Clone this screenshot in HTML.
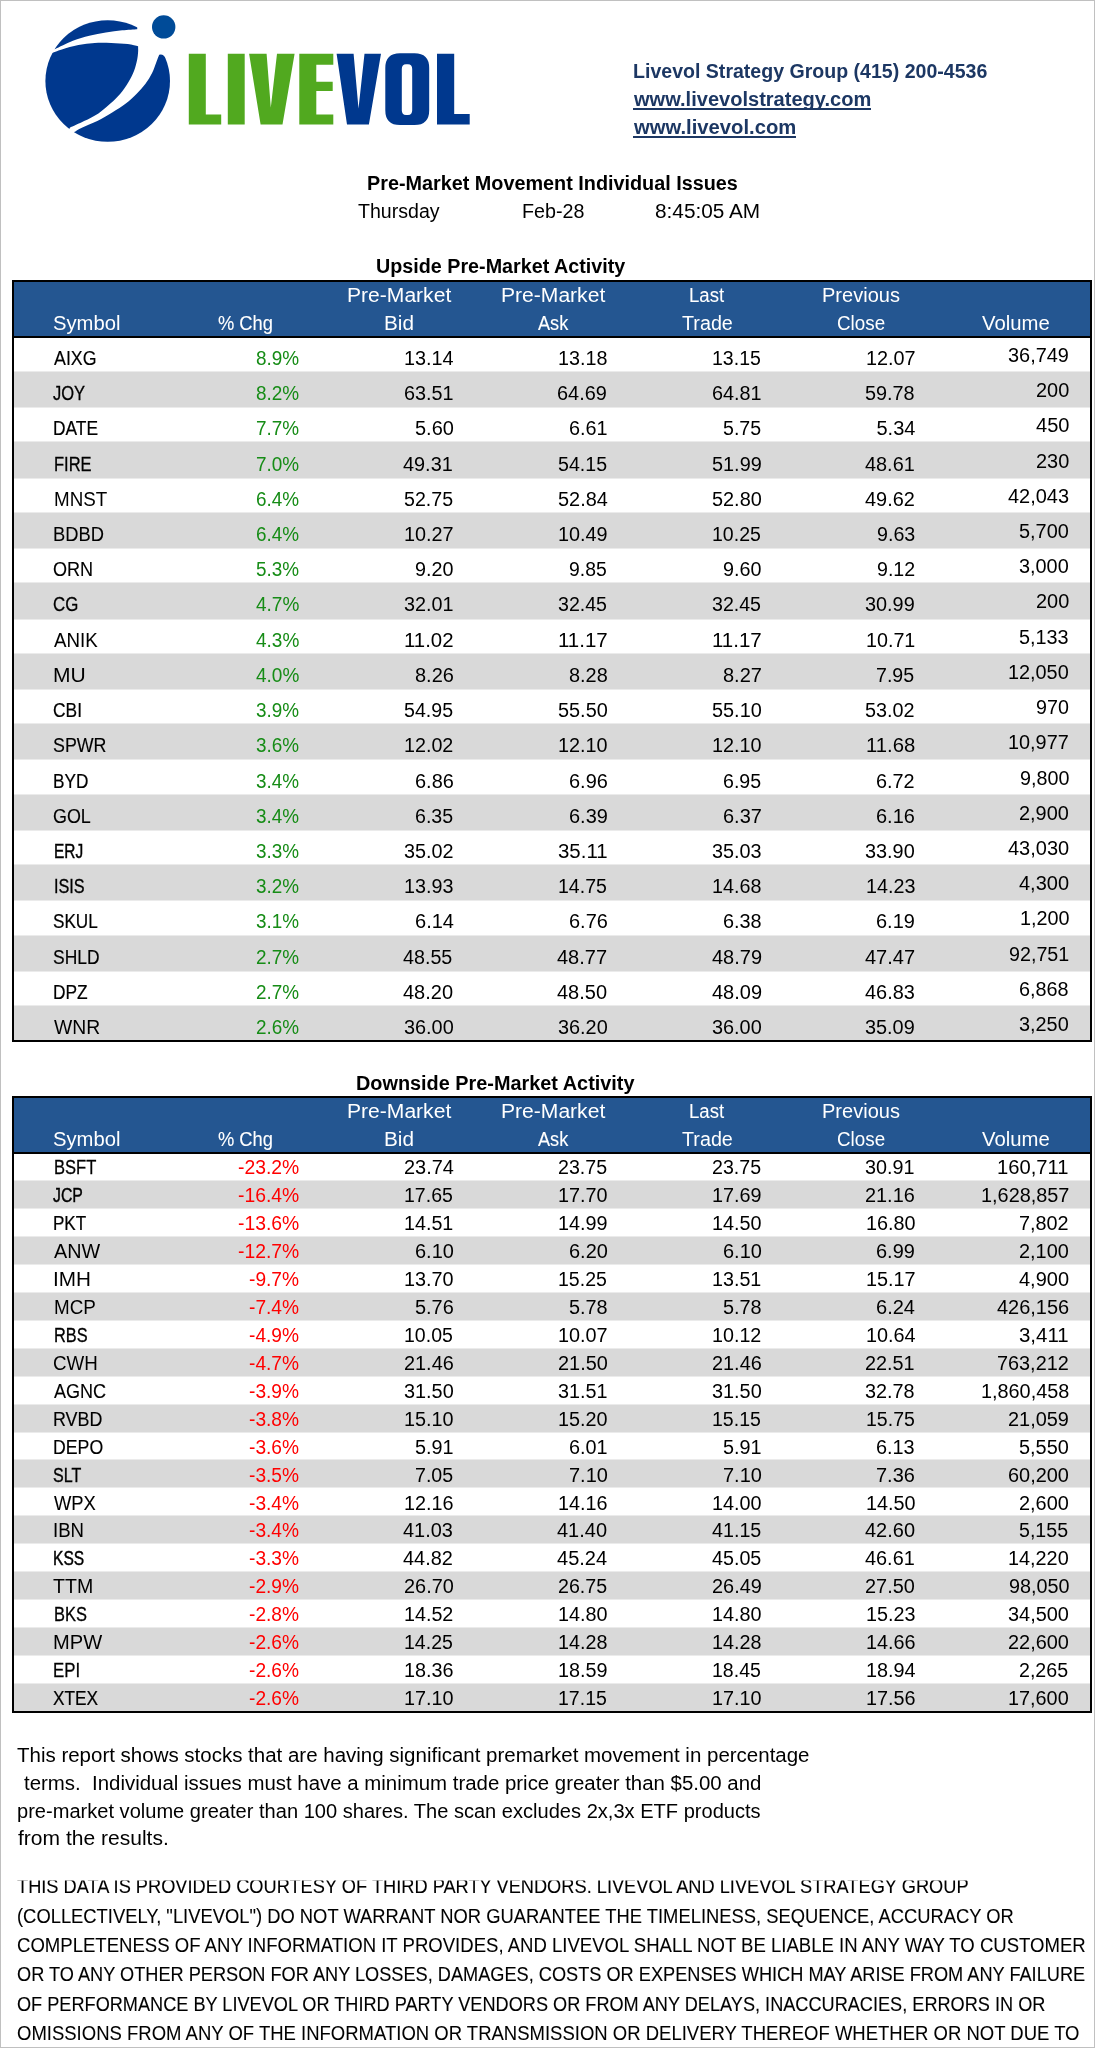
<!DOCTYPE html>
<html><head><meta charset="utf-8"><title>Pre-Market Movement</title>
<style>
html,body{margin:0;padding:0;background:#fff;}
body{width:1095px;height:2048px;position:relative;overflow:hidden;font-family:"Liberation Sans",sans-serif;color:#000;}
.t{position:absolute;white-space:pre;transform-origin:0 0;}
.r{position:absolute;}
.clip{position:absolute;overflow:hidden;}
.logo{position:absolute;left:0;top:0;}
</style></head><body><div id="w" style="position:absolute;left:0;top:0;width:1095px;height:2048px;will-change:transform">
<svg class="logo" width="500" height="170" viewBox="0 0 500 170">
<defs><clipPath id="cc"><ellipse cx="107.7" cy="81" rx="62.3" ry="60.8"/></clipPath></defs>
<g clip-path="url(#cc)" fill="#00388e">
<path d="M40 52 L55.3 48.9 C58.23 47.53 67.23 42.88 72.90 40.70 C78.57 38.52 83.82 37.17 89.30 35.80 C94.78 34.43 100.32 33.42 105.80 32.50 C111.28 31.58 116.97 30.85 122.20 30.30 C127.43 29.75 134.70 29.38 137.20 29.20 L138 20 L139 5 L40 5 Z"/>
<path d="M30 56 L51.0 53.3 C52.82 52.67 57.33 50.87 61.90 49.50 C66.47 48.13 72.92 46.20 78.40 45.10 C83.88 44.00 89.33 43.27 94.80 42.90 C100.27 42.53 105.72 42.72 111.20 42.90 C116.68 43.08 123.22 43.45 127.70 44.00 C132.18 44.55 136.37 45.83 138.10 46.20 C138.10 47.17 138.27 49.70 138.10 52.00 C137.93 54.30 137.78 56.83 137.10 60.00 C136.42 63.17 135.43 67.33 134.00 71.00 C132.57 74.67 130.78 78.22 128.50 82.00 C126.22 85.78 123.32 90.10 120.30 93.70 C117.28 97.30 114.05 100.32 110.40 103.60 C106.75 106.88 102.78 110.48 98.40 113.40 C94.02 116.32 88.85 118.72 84.10 121.10 C79.35 123.48 72.27 126.60 69.90 127.70 L60 150 L30 150 Z"/>
<path d="M159.2 54.8 C158.73 55.98 157.58 58.88 156.40 61.90 C155.22 64.92 153.92 69.25 152.10 72.90 C150.28 76.55 148.07 80.33 145.50 83.80 C142.93 87.27 139.98 90.40 136.70 93.70 C133.42 97.00 129.82 100.50 125.80 103.60 C121.78 106.70 117.35 109.38 112.60 112.30 C107.85 115.22 102.42 118.53 97.30 121.10 C92.18 123.67 85.75 125.87 81.90 127.70 C78.05 129.53 75.48 131.37 74.20 132.10 L65 150 L185 150 L185 62 L166.5 59.2 Q163.5 53.6 159.2 54.8 Z"/>
</g>
<circle cx="163.7" cy="26.9" r="11.7" fill="#004b98"/>
<g fill="#51a91f">
<path d="M188.8 53.8 H205.8 V114.6 H221.2 V124.5 H188.8 Z"/>
<path d="M227.8 53.8 H244.7 V124.5 H227.8 Z"/>
<path d="M249.1 53.8 H266.6 L270.8 107.5 L277 53.8 H294.6 L282.5 124.5 H260.6 Z"/>
<path d="M299.3 53.8 H333.3 V64.7 H316.3 V81.7 H332.7 V91 H316.3 V114.6 H333.3 V124.5 H299.3 Z"/>
</g>
<g fill="#00388e">
<path d="M336.6 53.8 H353.6 L358.5 108.6 L364.5 53.8 H381 L368.9 124.5 H347 Z"/>
<path fill-rule="evenodd" d="M400 53.2 H414.5 Q429.2 53.2 429.2 68 V110.2 Q429.2 125 414.5 125 H400 Q385.3 125 385.3 110.2 V68 Q385.3 53.2 400 53.2 Z M406 64.2 Q401.8 64.2 401.8 69 V110.3 Q401.8 115.1 406 115.1 H408 Q412.2 115.1 412.2 110.3 V69 Q412.2 64.2 408 64.2 Z"/>
<path d="M437 53.8 H454.2 V114 H469.7 V124.5 H437 Z"/>
</g>
</svg>
<div class="t" style="left:632.94px;top:61.30px;font-size:20.00px;line-height:20.00px;transform:scaleX(0.9778);font-weight:bold;color:#1c3763;">Livevol Strategy Group (415) 200-4536</div>
<div class="t" style="left:634.09px;top:88.90px;font-size:20.00px;line-height:20.00px;transform:scaleX(1.0021);font-weight:bold;color:#1c3763;">www.livevolstrategy.com</div>
<div class="t" style="left:634.09px;top:116.90px;font-size:20.00px;line-height:20.00px;transform:scaleX(1.0114);font-weight:bold;color:#1c3763;">www.livevol.com</div>
<div class="r" style="left:633.20px;top:108.20px;width:237.60px;height:1.80px;background:#1c3763;"></div>
<div class="r" style="left:633.20px;top:136.20px;width:162.60px;height:1.80px;background:#1c3763;"></div>
<div class="t" style="left:367.43px;top:172.80px;font-size:20.00px;line-height:20.00px;transform:scaleX(0.9901);font-weight:bold;">Pre-Market Movement Individual Issues</div>
<div class="t" style="left:357.81px;top:201.22px;font-size:20.00px;line-height:20.00px;transform:scaleX(0.9784);">Thursday</div>
<div class="t" style="left:521.57px;top:201.22px;font-size:20.00px;line-height:20.00px;transform:scaleX(0.9856);">Feb-28</div>
<div class="t" style="left:654.52px;top:201.22px;font-size:20.00px;line-height:20.00px;transform:scaleX(1.0389);">8:45:05 AM</div>
<div class="t" style="left:376.05px;top:256.30px;font-size:20.00px;line-height:20.00px;transform:scaleX(0.9866);font-weight:bold;">Upside Pre-Market Activity</div>
<div class="t" style="left:355.62px;top:1072.80px;font-size:20.00px;line-height:20.00px;transform:scaleX(0.9931);font-weight:bold;">Downside Pre-Market Activity</div>
<div class="r" style="left:12.00px;top:372.00px;width:1080.00px;height:35.00px;background:#d9d9d9;"></div>
<div class="r" style="left:12.00px;top:371.00px;width:1080.00px;height:1.00px;background:#ebebeb;"></div>
<div class="r" style="left:12.00px;top:407.00px;width:1080.00px;height:1.00px;background:#ebebeb;"></div>
<div class="r" style="left:12.00px;top:442.00px;width:1080.00px;height:36.00px;background:#d9d9d9;"></div>
<div class="r" style="left:12.00px;top:441.00px;width:1080.00px;height:1.00px;background:#ebebeb;"></div>
<div class="r" style="left:12.00px;top:478.00px;width:1080.00px;height:1.00px;background:#ebebeb;"></div>
<div class="r" style="left:12.00px;top:513.00px;width:1080.00px;height:35.00px;background:#d9d9d9;"></div>
<div class="r" style="left:12.00px;top:512.00px;width:1080.00px;height:1.00px;background:#ebebeb;"></div>
<div class="r" style="left:12.00px;top:548.00px;width:1080.00px;height:1.00px;background:#ebebeb;"></div>
<div class="r" style="left:12.00px;top:583.00px;width:1080.00px;height:36.00px;background:#d9d9d9;"></div>
<div class="r" style="left:12.00px;top:582.00px;width:1080.00px;height:1.00px;background:#ebebeb;"></div>
<div class="r" style="left:12.00px;top:619.00px;width:1080.00px;height:1.00px;background:#ebebeb;"></div>
<div class="r" style="left:12.00px;top:654.00px;width:1080.00px;height:35.00px;background:#d9d9d9;"></div>
<div class="r" style="left:12.00px;top:653.00px;width:1080.00px;height:1.00px;background:#ebebeb;"></div>
<div class="r" style="left:12.00px;top:689.00px;width:1080.00px;height:1.00px;background:#ebebeb;"></div>
<div class="r" style="left:12.00px;top:724.00px;width:1080.00px;height:35.00px;background:#d9d9d9;"></div>
<div class="r" style="left:12.00px;top:723.00px;width:1080.00px;height:1.00px;background:#ebebeb;"></div>
<div class="r" style="left:12.00px;top:759.00px;width:1080.00px;height:1.00px;background:#ebebeb;"></div>
<div class="r" style="left:12.00px;top:795.00px;width:1080.00px;height:35.00px;background:#d9d9d9;"></div>
<div class="r" style="left:12.00px;top:794.00px;width:1080.00px;height:1.00px;background:#ebebeb;"></div>
<div class="r" style="left:12.00px;top:830.00px;width:1080.00px;height:1.00px;background:#ebebeb;"></div>
<div class="r" style="left:12.00px;top:865.00px;width:1080.00px;height:35.00px;background:#d9d9d9;"></div>
<div class="r" style="left:12.00px;top:864.00px;width:1080.00px;height:1.00px;background:#ebebeb;"></div>
<div class="r" style="left:12.00px;top:900.00px;width:1080.00px;height:1.00px;background:#ebebeb;"></div>
<div class="r" style="left:12.00px;top:936.00px;width:1080.00px;height:35.00px;background:#d9d9d9;"></div>
<div class="r" style="left:12.00px;top:935.00px;width:1080.00px;height:1.00px;background:#ebebeb;"></div>
<div class="r" style="left:12.00px;top:971.00px;width:1080.00px;height:1.00px;background:#ebebeb;"></div>
<div class="r" style="left:12.00px;top:1006.00px;width:1080.00px;height:35.00px;background:#d9d9d9;"></div>
<div class="r" style="left:12.00px;top:1005.00px;width:1080.00px;height:1.00px;background:#ebebeb;"></div>
<div class="r" style="left:12.00px;top:280.00px;width:1080.00px;height:56.00px;background:#245691;"></div>
<div class="r" style="left:12.00px;top:336.00px;width:1080.00px;height:2.00px;background:#000;"></div>
<div class="r" style="left:12.00px;top:280.00px;width:1080.00px;height:762.00px;border:2px solid #000;box-sizing:border-box"></div>
<div class="t" style="left:52.75px;top:312.92px;font-size:20.00px;line-height:20.00px;transform:scaleX(1.0122);color:#fff;">Symbol</div>
<div class="t" style="left:217.70px;top:312.92px;font-size:20.00px;line-height:20.00px;transform:scaleX(0.9158);-webkit-text-stroke:0.09px currentColor;color:#fff;">% Chg</div>
<div class="t" style="left:346.75px;top:284.92px;font-size:20.00px;line-height:20.00px;transform:scaleX(1.0539);color:#fff;">Pre-Market</div>
<div class="t" style="left:384.43px;top:312.92px;font-size:20.00px;line-height:20.00px;transform:scaleX(1.0357);color:#fff;">Bid</div>
<div class="t" style="left:500.65px;top:284.92px;font-size:20.00px;line-height:20.00px;transform:scaleX(1.0539);color:#fff;">Pre-Market</div>
<div class="t" style="left:538.48px;top:312.92px;font-size:20.00px;line-height:20.00px;transform:scaleX(0.9071);-webkit-text-stroke:0.11px currentColor;color:#fff;">Ask</div>
<div class="t" style="left:689.06px;top:284.92px;font-size:20.00px;line-height:20.00px;transform:scaleX(0.9284);-webkit-text-stroke:0.07px currentColor;color:#fff;">Last</div>
<div class="t" style="left:681.86px;top:312.92px;font-size:20.00px;line-height:20.00px;transform:scaleX(0.9870);color:#fff;">Trade</div>
<div class="t" style="left:821.74px;top:284.92px;font-size:20.00px;line-height:20.00px;transform:scaleX(1.0014);color:#fff;">Previous</div>
<div class="t" style="left:837.09px;top:312.92px;font-size:20.00px;line-height:20.00px;transform:scaleX(0.9411);color:#fff;">Close</div>
<div class="t" style="left:981.78px;top:312.92px;font-size:20.00px;line-height:20.00px;transform:scaleX(1.0153);color:#fff;">Volume</div>
<div class="t" style="left:53.53px;top:347.92px;font-size:20.00px;line-height:20.00px;transform:scaleX(0.8908);-webkit-text-stroke:0.15px currentColor;">AIXG</div>
<div class="t" style="left:255.82px;top:347.92px;font-size:20.00px;line-height:20.00px;transform:scaleX(0.9468);color:#168c16;">8.9%</div>
<div class="t" style="left:403.79px;top:347.92px;font-size:20.00px;line-height:20.00px;transform:scaleX(0.9914);">13.14</div>
<div class="t" style="left:557.72px;top:347.92px;font-size:20.00px;line-height:20.00px;transform:scaleX(0.9869);">13.18</div>
<div class="t" style="left:712.04px;top:347.92px;font-size:20.00px;line-height:20.00px;transform:scaleX(0.9757);">13.15</div>
<div class="t" style="left:865.59px;top:347.92px;font-size:20.00px;line-height:20.00px;transform:scaleX(0.9909);">12.07</div>
<div class="t" style="left:1008.32px;top:344.92px;font-size:20.00px;line-height:20.00px;transform:scaleX(0.9948);">36,749</div>
<div class="t" style="left:53.27px;top:383.14px;font-size:20.00px;line-height:20.00px;transform:scaleX(0.8262);-webkit-text-stroke:0.30px currentColor;">JOY</div>
<div class="t" style="left:255.82px;top:383.14px;font-size:20.00px;line-height:20.00px;transform:scaleX(0.9468);color:#168c16;">8.2%</div>
<div class="t" style="left:403.57px;top:383.14px;font-size:20.00px;line-height:20.00px;transform:scaleX(0.9899);">63.51</div>
<div class="t" style="left:557.49px;top:383.14px;font-size:20.00px;line-height:20.00px;transform:scaleX(0.9947);">64.69</div>
<div class="t" style="left:711.80px;top:383.14px;font-size:20.00px;line-height:20.00px;transform:scaleX(0.9899);">64.81</div>
<div class="t" style="left:865.40px;top:383.14px;font-size:20.00px;line-height:20.00px;transform:scaleX(0.9910);">59.78</div>
<div class="t" style="left:1035.91px;top:380.14px;font-size:20.00px;line-height:20.00px;transform:scaleX(0.9965);">200</div>
<div class="t" style="left:53.43px;top:418.36px;font-size:20.00px;line-height:20.00px;transform:scaleX(0.8687);-webkit-text-stroke:0.20px currentColor;">DATE</div>
<div class="t" style="left:255.89px;top:418.36px;font-size:20.00px;line-height:20.00px;transform:scaleX(0.9453);color:#168c16;">7.7%</div>
<div class="t" style="left:414.67px;top:418.36px;font-size:20.00px;line-height:20.00px;transform:scaleX(0.9979);">5.60</div>
<div class="t" style="left:568.59px;top:418.36px;font-size:20.00px;line-height:20.00px;transform:scaleX(0.9912);">6.61</div>
<div class="t" style="left:722.92px;top:418.36px;font-size:20.00px;line-height:20.00px;transform:scaleX(0.9788);">5.75</div>
<div class="t" style="left:876.48px;top:418.36px;font-size:20.00px;line-height:20.00px;">5.34</div>
<div class="t" style="left:1035.69px;top:415.36px;font-size:20.00px;line-height:20.00px;transform:scaleX(1.0033);">450</div>
<div class="t" style="left:53.51px;top:453.58px;font-size:20.00px;line-height:20.00px;transform:scaleX(0.8236);-webkit-text-stroke:0.31px currentColor;">FIRE</div>
<div class="t" style="left:255.89px;top:453.58px;font-size:20.00px;line-height:20.00px;transform:scaleX(0.9453);color:#168c16;">7.0%</div>
<div class="t" style="left:403.35px;top:453.58px;font-size:20.00px;line-height:20.00px;transform:scaleX(0.9943);">49.31</div>
<div class="t" style="left:557.53px;top:453.58px;font-size:20.00px;line-height:20.00px;transform:scaleX(0.9799);">54.15</div>
<div class="t" style="left:711.82px;top:453.58px;font-size:20.00px;line-height:20.00px;transform:scaleX(0.9942);">51.99</div>
<div class="t" style="left:865.15px;top:453.58px;font-size:20.00px;line-height:20.00px;transform:scaleX(0.9943);">48.61</div>
<div class="t" style="left:1035.91px;top:450.58px;font-size:20.00px;line-height:20.00px;transform:scaleX(0.9965);">230</div>
<div class="t" style="left:53.57px;top:488.80px;font-size:20.00px;line-height:20.00px;transform:scaleX(0.9391);">MNST</div>
<div class="t" style="left:255.89px;top:488.80px;font-size:20.00px;line-height:20.00px;transform:scaleX(0.9453);color:#168c16;">6.4%</div>
<div class="t" style="left:403.60px;top:488.80px;font-size:20.00px;line-height:20.00px;transform:scaleX(0.9799);">52.75</div>
<div class="t" style="left:557.52px;top:488.80px;font-size:20.00px;line-height:20.00px;transform:scaleX(0.9954);">52.84</div>
<div class="t" style="left:711.82px;top:488.80px;font-size:20.00px;line-height:20.00px;transform:scaleX(0.9942);">52.80</div>
<div class="t" style="left:865.15px;top:488.80px;font-size:20.00px;line-height:20.00px;transform:scaleX(0.9947);">49.62</div>
<div class="t" style="left:1008.05px;top:485.80px;font-size:20.00px;line-height:20.00px;transform:scaleX(0.9967);">42,043</div>
<div class="t" style="left:53.35px;top:524.03px;font-size:20.00px;line-height:20.00px;transform:scaleX(0.9173);-webkit-text-stroke:0.09px currentColor;">BDBD</div>
<div class="t" style="left:255.89px;top:524.03px;font-size:20.00px;line-height:20.00px;transform:scaleX(0.9453);color:#168c16;">6.4%</div>
<div class="t" style="left:403.79px;top:524.03px;font-size:20.00px;line-height:20.00px;transform:scaleX(0.9909);">10.27</div>
<div class="t" style="left:557.72px;top:524.03px;font-size:20.00px;line-height:20.00px;transform:scaleX(0.9902);">10.49</div>
<div class="t" style="left:712.04px;top:524.03px;font-size:20.00px;line-height:20.00px;transform:scaleX(0.9757);">10.25</div>
<div class="t" style="left:876.88px;top:524.03px;font-size:20.00px;line-height:20.00px;transform:scaleX(0.9826);">9.63</div>
<div class="t" style="left:1019.38px;top:521.03px;font-size:20.00px;line-height:20.00px;transform:scaleX(0.9942);">5,700</div>
<div class="t" style="left:53.32px;top:559.25px;font-size:20.00px;line-height:20.00px;transform:scaleX(0.9037);-webkit-text-stroke:0.12px currentColor;">ORN</div>
<div class="t" style="left:255.91px;top:559.25px;font-size:20.00px;line-height:20.00px;transform:scaleX(0.9448);color:#168c16;">5.3%</div>
<div class="t" style="left:415.07px;top:559.25px;font-size:20.00px;line-height:20.00px;transform:scaleX(0.9875);">9.20</div>
<div class="t" style="left:569.02px;top:559.25px;font-size:20.00px;line-height:20.00px;transform:scaleX(0.9684);">9.85</div>
<div class="t" style="left:723.30px;top:559.25px;font-size:20.00px;line-height:20.00px;transform:scaleX(0.9875);">9.60</div>
<div class="t" style="left:876.88px;top:559.25px;font-size:20.00px;line-height:20.00px;transform:scaleX(0.9801);">9.12</div>
<div class="t" style="left:1019.41px;top:556.25px;font-size:20.00px;line-height:20.00px;transform:scaleX(0.9936);">3,000</div>
<div class="t" style="left:53.36px;top:594.47px;font-size:20.00px;line-height:20.00px;transform:scaleX(0.8430);-webkit-text-stroke:0.26px currentColor;">CG</div>
<div class="t" style="left:255.65px;top:594.47px;font-size:20.00px;line-height:20.00px;transform:scaleX(0.9506);color:#168c16;">4.7%</div>
<div class="t" style="left:403.62px;top:594.47px;font-size:20.00px;line-height:20.00px;transform:scaleX(0.9888);">32.01</div>
<div class="t" style="left:557.56px;top:594.47px;font-size:20.00px;line-height:20.00px;transform:scaleX(0.9793);">32.45</div>
<div class="t" style="left:711.86px;top:594.47px;font-size:20.00px;line-height:20.00px;transform:scaleX(0.9793);">32.45</div>
<div class="t" style="left:865.43px;top:594.47px;font-size:20.00px;line-height:20.00px;transform:scaleX(0.9936);">30.99</div>
<div class="t" style="left:1035.91px;top:591.47px;font-size:20.00px;line-height:20.00px;transform:scaleX(0.9965);">200</div>
<div class="t" style="left:53.53px;top:629.69px;font-size:20.00px;line-height:20.00px;transform:scaleX(0.9360);-webkit-text-stroke:0.05px currentColor;">ANIK</div>
<div class="t" style="left:255.65px;top:629.69px;font-size:20.00px;line-height:20.00px;transform:scaleX(0.9506);color:#168c16;">4.3%</div>
<div class="t" style="left:403.74px;top:629.69px;font-size:20.00px;line-height:20.00px;transform:scaleX(1.0190);">11.02</div>
<div class="t" style="left:557.66px;top:629.69px;font-size:20.00px;line-height:20.00px;transform:scaleX(1.0245);">11.17</div>
<div class="t" style="left:711.96px;top:629.69px;font-size:20.00px;line-height:20.00px;transform:scaleX(1.0245);">11.17</div>
<div class="t" style="left:865.60px;top:629.69px;font-size:20.00px;line-height:20.00px;transform:scaleX(0.9853);">10.71</div>
<div class="t" style="left:1019.38px;top:626.69px;font-size:20.00px;line-height:20.00px;transform:scaleX(0.9910);">5,133</div>
<div class="t" style="left:53.38px;top:664.91px;font-size:20.00px;line-height:20.00px;transform:scaleX(1.0514);">MU</div>
<div class="t" style="left:255.65px;top:664.91px;font-size:20.00px;line-height:20.00px;transform:scaleX(0.9506);color:#168c16;">4.0%</div>
<div class="t" style="left:414.59px;top:664.91px;font-size:20.00px;line-height:20.00px;transform:scaleX(0.9986);">8.26</div>
<div class="t" style="left:568.52px;top:664.91px;font-size:20.00px;line-height:20.00px;transform:scaleX(0.9953);">8.28</div>
<div class="t" style="left:722.82px;top:664.91px;font-size:20.00px;line-height:20.00px;transform:scaleX(0.9996);">8.27</div>
<div class="t" style="left:876.47px;top:664.91px;font-size:20.00px;line-height:20.00px;transform:scaleX(0.9794);">7.95</div>
<div class="t" style="left:1008.49px;top:661.91px;font-size:20.00px;line-height:20.00px;transform:scaleX(0.9920);">12,050</div>
<div class="t" style="left:53.33px;top:700.14px;font-size:20.00px;line-height:20.00px;transform:scaleX(0.8692);-webkit-text-stroke:0.20px currentColor;">CBI</div>
<div class="t" style="left:255.94px;top:700.14px;font-size:20.00px;line-height:20.00px;transform:scaleX(0.9442);color:#168c16;">3.9%</div>
<div class="t" style="left:403.60px;top:700.14px;font-size:20.00px;line-height:20.00px;transform:scaleX(0.9799);">54.95</div>
<div class="t" style="left:557.52px;top:700.14px;font-size:20.00px;line-height:20.00px;transform:scaleX(0.9942);">55.50</div>
<div class="t" style="left:711.82px;top:700.14px;font-size:20.00px;line-height:20.00px;transform:scaleX(0.9942);">55.10</div>
<div class="t" style="left:865.40px;top:700.14px;font-size:20.00px;line-height:20.00px;transform:scaleX(0.9898);">53.02</div>
<div class="t" style="left:1036.32px;top:697.14px;font-size:20.00px;line-height:20.00px;transform:scaleX(0.9837);">970</div>
<div class="t" style="left:53.16px;top:735.36px;font-size:20.00px;line-height:20.00px;transform:scaleX(0.8903);-webkit-text-stroke:0.15px currentColor;">SPWR</div>
<div class="t" style="left:255.94px;top:735.36px;font-size:20.00px;line-height:20.00px;transform:scaleX(0.9442);color:#168c16;">3.6%</div>
<div class="t" style="left:403.79px;top:735.36px;font-size:20.00px;line-height:20.00px;transform:scaleX(0.9857);">12.02</div>
<div class="t" style="left:557.72px;top:735.36px;font-size:20.00px;line-height:20.00px;transform:scaleX(0.9902);">12.10</div>
<div class="t" style="left:712.02px;top:735.36px;font-size:20.00px;line-height:20.00px;transform:scaleX(0.9902);">12.10</div>
<div class="t" style="left:865.56px;top:735.36px;font-size:20.00px;line-height:20.00px;transform:scaleX(1.0138);">11.68</div>
<div class="t" style="left:1008.49px;top:732.36px;font-size:20.00px;line-height:20.00px;transform:scaleX(0.9926);">10,977</div>
<div class="t" style="left:53.45px;top:770.58px;font-size:20.00px;line-height:20.00px;transform:scaleX(0.8600);-webkit-text-stroke:0.22px currentColor;">BYD</div>
<div class="t" style="left:255.94px;top:770.58px;font-size:20.00px;line-height:20.00px;transform:scaleX(0.9442);color:#168c16;">3.4%</div>
<div class="t" style="left:414.65px;top:770.58px;font-size:20.00px;line-height:20.00px;transform:scaleX(0.9969);">6.86</div>
<div class="t" style="left:568.58px;top:770.58px;font-size:20.00px;line-height:20.00px;transform:scaleX(0.9969);">6.96</div>
<div class="t" style="left:722.90px;top:770.58px;font-size:20.00px;line-height:20.00px;transform:scaleX(0.9794);">6.95</div>
<div class="t" style="left:876.46px;top:770.58px;font-size:20.00px;line-height:20.00px;transform:scaleX(0.9912);">6.72</div>
<div class="t" style="left:1019.78px;top:767.58px;font-size:20.00px;line-height:20.00px;transform:scaleX(0.9863);">9,800</div>
<div class="t" style="left:53.31px;top:805.80px;font-size:20.00px;line-height:20.00px;transform:scaleX(0.8954);-webkit-text-stroke:0.14px currentColor;">GOL</div>
<div class="t" style="left:255.94px;top:805.80px;font-size:20.00px;line-height:20.00px;transform:scaleX(0.9442);color:#168c16;">3.4%</div>
<div class="t" style="left:414.67px;top:805.80px;font-size:20.00px;line-height:20.00px;transform:scaleX(0.9794);">6.35</div>
<div class="t" style="left:568.58px;top:805.80px;font-size:20.00px;line-height:20.00px;transform:scaleX(0.9977);">6.39</div>
<div class="t" style="left:722.88px;top:805.80px;font-size:20.00px;line-height:20.00px;transform:scaleX(0.9979);">6.37</div>
<div class="t" style="left:876.46px;top:805.80px;font-size:20.00px;line-height:20.00px;transform:scaleX(0.9969);">6.16</div>
<div class="t" style="left:1019.36px;top:802.80px;font-size:20.00px;line-height:20.00px;transform:scaleX(0.9946);">2,900</div>
<div class="t" style="left:53.60px;top:841.02px;font-size:20.00px;line-height:20.00px;transform:scaleX(0.7708);-webkit-text-stroke:0.46px currentColor;">ERJ</div>
<div class="t" style="left:255.94px;top:841.02px;font-size:20.00px;line-height:20.00px;transform:scaleX(0.9442);color:#168c16;">3.3%</div>
<div class="t" style="left:403.62px;top:841.02px;font-size:20.00px;line-height:20.00px;transform:scaleX(0.9892);">35.02</div>
<div class="t" style="left:557.53px;top:841.02px;font-size:20.00px;line-height:20.00px;transform:scaleX(1.0220);">35.11</div>
<div class="t" style="left:711.85px;top:841.02px;font-size:20.00px;line-height:20.00px;transform:scaleX(0.9904);">35.03</div>
<div class="t" style="left:865.43px;top:841.02px;font-size:20.00px;line-height:20.00px;transform:scaleX(0.9936);">33.90</div>
<div class="t" style="left:1008.05px;top:838.02px;font-size:20.00px;line-height:20.00px;transform:scaleX(0.9993);">43,030</div>
<div class="t" style="left:53.67px;top:876.25px;font-size:20.00px;line-height:20.00px;transform:scaleX(0.8106);-webkit-text-stroke:0.34px currentColor;">ISIS</div>
<div class="t" style="left:255.94px;top:876.25px;font-size:20.00px;line-height:20.00px;transform:scaleX(0.9442);color:#168c16;">3.2%</div>
<div class="t" style="left:403.79px;top:876.25px;font-size:20.00px;line-height:20.00px;transform:scaleX(0.9869);">13.93</div>
<div class="t" style="left:557.74px;top:876.25px;font-size:20.00px;line-height:20.00px;transform:scaleX(0.9757);">14.75</div>
<div class="t" style="left:712.02px;top:876.25px;font-size:20.00px;line-height:20.00px;transform:scaleX(0.9869);">14.68</div>
<div class="t" style="left:865.60px;top:876.25px;font-size:20.00px;line-height:20.00px;transform:scaleX(0.9869);">14.23</div>
<div class="t" style="left:1019.14px;top:873.25px;font-size:20.00px;line-height:20.00px;transform:scaleX(0.9991);">4,300</div>
<div class="t" style="left:53.19px;top:911.47px;font-size:20.00px;line-height:20.00px;transform:scaleX(0.8573);-webkit-text-stroke:0.22px currentColor;">SKUL</div>
<div class="t" style="left:255.94px;top:911.47px;font-size:20.00px;line-height:20.00px;transform:scaleX(0.9442);color:#168c16;">3.1%</div>
<div class="t" style="left:414.65px;top:911.47px;font-size:20.00px;line-height:20.00px;transform:scaleX(1.0007);">6.14</div>
<div class="t" style="left:568.58px;top:911.47px;font-size:20.00px;line-height:20.00px;transform:scaleX(0.9969);">6.76</div>
<div class="t" style="left:722.88px;top:911.47px;font-size:20.00px;line-height:20.00px;transform:scaleX(0.9936);">6.38</div>
<div class="t" style="left:876.46px;top:911.47px;font-size:20.00px;line-height:20.00px;transform:scaleX(0.9977);">6.19</div>
<div class="t" style="left:1019.58px;top:908.47px;font-size:20.00px;line-height:20.00px;transform:scaleX(0.9902);">1,200</div>
<div class="t" style="left:53.18px;top:946.69px;font-size:20.00px;line-height:20.00px;transform:scaleX(0.8722);-webkit-text-stroke:0.19px currentColor;">SHLD</div>
<div class="t" style="left:255.89px;top:946.69px;font-size:20.00px;line-height:20.00px;transform:scaleX(0.9452);color:#168c16;">2.7%</div>
<div class="t" style="left:403.35px;top:946.69px;font-size:20.00px;line-height:20.00px;transform:scaleX(0.9849);">48.55</div>
<div class="t" style="left:557.28px;top:946.69px;font-size:20.00px;line-height:20.00px;transform:scaleX(0.9999);">48.77</div>
<div class="t" style="left:711.58px;top:946.69px;font-size:20.00px;line-height:20.00px;transform:scaleX(0.9991);">48.79</div>
<div class="t" style="left:865.15px;top:946.69px;font-size:20.00px;line-height:20.00px;transform:scaleX(0.9999);">47.47</div>
<div class="t" style="left:1008.69px;top:943.69px;font-size:20.00px;line-height:20.00px;transform:scaleX(0.9848);">92,751</div>
<div class="t" style="left:53.44px;top:981.91px;font-size:20.00px;line-height:20.00px;transform:scaleX(0.8668);-webkit-text-stroke:0.20px currentColor;">DPZ</div>
<div class="t" style="left:255.89px;top:981.91px;font-size:20.00px;line-height:20.00px;transform:scaleX(0.9452);color:#168c16;">2.7%</div>
<div class="t" style="left:403.35px;top:981.91px;font-size:20.00px;line-height:20.00px;transform:scaleX(0.9991);">48.20</div>
<div class="t" style="left:557.28px;top:981.91px;font-size:20.00px;line-height:20.00px;transform:scaleX(0.9991);">48.50</div>
<div class="t" style="left:711.58px;top:981.91px;font-size:20.00px;line-height:20.00px;transform:scaleX(0.9991);">48.09</div>
<div class="t" style="left:865.15px;top:981.91px;font-size:20.00px;line-height:20.00px;transform:scaleX(0.9959);">46.83</div>
<div class="t" style="left:1019.36px;top:978.91px;font-size:20.00px;line-height:20.00px;transform:scaleX(0.9915);">6,868</div>
<div class="t" style="left:53.53px;top:1017.13px;font-size:20.00px;line-height:20.00px;transform:scaleX(0.9665);">WNR</div>
<div class="t" style="left:255.89px;top:1017.13px;font-size:20.00px;line-height:20.00px;transform:scaleX(0.9452);color:#168c16;">2.6%</div>
<div class="t" style="left:403.62px;top:1017.13px;font-size:20.00px;line-height:20.00px;transform:scaleX(0.9936);">36.00</div>
<div class="t" style="left:557.55px;top:1017.13px;font-size:20.00px;line-height:20.00px;transform:scaleX(0.9936);">36.20</div>
<div class="t" style="left:711.85px;top:1017.13px;font-size:20.00px;line-height:20.00px;transform:scaleX(0.9936);">36.00</div>
<div class="t" style="left:865.43px;top:1017.13px;font-size:20.00px;line-height:20.00px;transform:scaleX(0.9936);">35.09</div>
<div class="t" style="left:1019.41px;top:1014.13px;font-size:20.00px;line-height:20.00px;transform:scaleX(0.9936);">3,250</div>
<div class="r" style="left:12.00px;top:1181.00px;width:1080.00px;height:27.00px;background:#d9d9d9;"></div>
<div class="r" style="left:12.00px;top:1180.00px;width:1080.00px;height:1.00px;background:#ebebeb;"></div>
<div class="r" style="left:12.00px;top:1208.00px;width:1080.00px;height:1.00px;background:#ebebeb;"></div>
<div class="r" style="left:12.00px;top:1237.00px;width:1080.00px;height:27.00px;background:#d9d9d9;"></div>
<div class="r" style="left:12.00px;top:1236.00px;width:1080.00px;height:1.00px;background:#ebebeb;"></div>
<div class="r" style="left:12.00px;top:1264.00px;width:1080.00px;height:1.00px;background:#ebebeb;"></div>
<div class="r" style="left:12.00px;top:1293.00px;width:1080.00px;height:27.00px;background:#d9d9d9;"></div>
<div class="r" style="left:12.00px;top:1292.00px;width:1080.00px;height:1.00px;background:#ebebeb;"></div>
<div class="r" style="left:12.00px;top:1320.00px;width:1080.00px;height:1.00px;background:#ebebeb;"></div>
<div class="r" style="left:12.00px;top:1349.00px;width:1080.00px;height:27.00px;background:#d9d9d9;"></div>
<div class="r" style="left:12.00px;top:1348.00px;width:1080.00px;height:1.00px;background:#ebebeb;"></div>
<div class="r" style="left:12.00px;top:1376.00px;width:1080.00px;height:1.00px;background:#ebebeb;"></div>
<div class="r" style="left:12.00px;top:1405.00px;width:1080.00px;height:27.00px;background:#d9d9d9;"></div>
<div class="r" style="left:12.00px;top:1404.00px;width:1080.00px;height:1.00px;background:#ebebeb;"></div>
<div class="r" style="left:12.00px;top:1432.00px;width:1080.00px;height:1.00px;background:#ebebeb;"></div>
<div class="r" style="left:12.00px;top:1460.00px;width:1080.00px;height:27.00px;background:#d9d9d9;"></div>
<div class="r" style="left:12.00px;top:1459.00px;width:1080.00px;height:1.00px;background:#ebebeb;"></div>
<div class="r" style="left:12.00px;top:1487.00px;width:1080.00px;height:1.00px;background:#ebebeb;"></div>
<div class="r" style="left:12.00px;top:1516.00px;width:1080.00px;height:27.00px;background:#d9d9d9;"></div>
<div class="r" style="left:12.00px;top:1515.00px;width:1080.00px;height:1.00px;background:#ebebeb;"></div>
<div class="r" style="left:12.00px;top:1543.00px;width:1080.00px;height:1.00px;background:#ebebeb;"></div>
<div class="r" style="left:12.00px;top:1572.00px;width:1080.00px;height:27.00px;background:#d9d9d9;"></div>
<div class="r" style="left:12.00px;top:1571.00px;width:1080.00px;height:1.00px;background:#ebebeb;"></div>
<div class="r" style="left:12.00px;top:1599.00px;width:1080.00px;height:1.00px;background:#ebebeb;"></div>
<div class="r" style="left:12.00px;top:1628.00px;width:1080.00px;height:27.00px;background:#d9d9d9;"></div>
<div class="r" style="left:12.00px;top:1627.00px;width:1080.00px;height:1.00px;background:#ebebeb;"></div>
<div class="r" style="left:12.00px;top:1655.00px;width:1080.00px;height:1.00px;background:#ebebeb;"></div>
<div class="r" style="left:12.00px;top:1684.00px;width:1080.00px;height:28.00px;background:#d9d9d9;"></div>
<div class="r" style="left:12.00px;top:1683.00px;width:1080.00px;height:1.00px;background:#ebebeb;"></div>
<div class="r" style="left:12.00px;top:1096.00px;width:1080.00px;height:56.00px;background:#245691;"></div>
<div class="r" style="left:12.00px;top:1152.00px;width:1080.00px;height:2.00px;background:#000;"></div>
<div class="r" style="left:12.00px;top:1096.00px;width:1080.00px;height:617.00px;border:2px solid #000;box-sizing:border-box"></div>
<div class="t" style="left:52.75px;top:1128.92px;font-size:20.00px;line-height:20.00px;transform:scaleX(1.0122);color:#fff;">Symbol</div>
<div class="t" style="left:217.70px;top:1128.92px;font-size:20.00px;line-height:20.00px;transform:scaleX(0.9158);-webkit-text-stroke:0.09px currentColor;color:#fff;">% Chg</div>
<div class="t" style="left:346.75px;top:1100.92px;font-size:20.00px;line-height:20.00px;transform:scaleX(1.0539);color:#fff;">Pre-Market</div>
<div class="t" style="left:384.43px;top:1128.92px;font-size:20.00px;line-height:20.00px;transform:scaleX(1.0357);color:#fff;">Bid</div>
<div class="t" style="left:500.65px;top:1100.92px;font-size:20.00px;line-height:20.00px;transform:scaleX(1.0539);color:#fff;">Pre-Market</div>
<div class="t" style="left:538.48px;top:1128.92px;font-size:20.00px;line-height:20.00px;transform:scaleX(0.9071);-webkit-text-stroke:0.11px currentColor;color:#fff;">Ask</div>
<div class="t" style="left:689.06px;top:1100.92px;font-size:20.00px;line-height:20.00px;transform:scaleX(0.9284);-webkit-text-stroke:0.07px currentColor;color:#fff;">Last</div>
<div class="t" style="left:681.86px;top:1128.92px;font-size:20.00px;line-height:20.00px;transform:scaleX(0.9870);color:#fff;">Trade</div>
<div class="t" style="left:821.74px;top:1100.92px;font-size:20.00px;line-height:20.00px;transform:scaleX(1.0014);color:#fff;">Previous</div>
<div class="t" style="left:837.09px;top:1128.92px;font-size:20.00px;line-height:20.00px;transform:scaleX(0.9411);color:#fff;">Close</div>
<div class="t" style="left:981.78px;top:1128.92px;font-size:20.00px;line-height:20.00px;transform:scaleX(1.0153);color:#fff;">Volume</div>
<div class="t" style="left:53.50px;top:1157.22px;font-size:20.00px;line-height:20.00px;transform:scaleX(0.8273);-webkit-text-stroke:0.30px currentColor;">BSFT</div>
<div class="t" style="left:237.91px;top:1157.22px;font-size:20.00px;line-height:20.00px;transform:scaleX(0.9668);color:#ff0000;">-23.2%</div>
<div class="t" style="left:403.57px;top:1157.22px;font-size:20.00px;line-height:20.00px;transform:scaleX(0.9958);">23.74</div>
<div class="t" style="left:557.51px;top:1157.22px;font-size:20.00px;line-height:20.00px;transform:scaleX(0.9803);">23.75</div>
<div class="t" style="left:711.81px;top:1157.22px;font-size:20.00px;line-height:20.00px;transform:scaleX(0.9803);">23.75</div>
<div class="t" style="left:865.43px;top:1157.22px;font-size:20.00px;line-height:20.00px;transform:scaleX(0.9888);">30.91</div>
<div class="t" style="left:997.38px;top:1157.22px;font-size:20.00px;line-height:20.00px;transform:scaleX(1.0085);">160,711</div>
<div class="t" style="left:53.29px;top:1185.16px;font-size:20.00px;line-height:20.00px;transform:scaleX(0.7913);-webkit-text-stroke:0.40px currentColor;">JCP</div>
<div class="t" style="left:237.91px;top:1185.16px;font-size:20.00px;line-height:20.00px;transform:scaleX(0.9668);color:#ff0000;">-16.4%</div>
<div class="t" style="left:403.81px;top:1185.16px;font-size:20.00px;line-height:20.00px;transform:scaleX(0.9757);">17.65</div>
<div class="t" style="left:557.72px;top:1185.16px;font-size:20.00px;line-height:20.00px;transform:scaleX(0.9902);">17.70</div>
<div class="t" style="left:712.02px;top:1185.16px;font-size:20.00px;line-height:20.00px;transform:scaleX(0.9902);">17.69</div>
<div class="t" style="left:865.37px;top:1185.16px;font-size:20.00px;line-height:20.00px;transform:scaleX(0.9938);">21.16</div>
<div class="t" style="left:980.85px;top:1185.16px;font-size:20.00px;line-height:20.00px;transform:scaleX(0.9937);">1,628,857</div>
<div class="t" style="left:53.46px;top:1213.10px;font-size:20.00px;line-height:20.00px;transform:scaleX(0.8525);-webkit-text-stroke:0.24px currentColor;">PKT</div>
<div class="t" style="left:237.91px;top:1213.10px;font-size:20.00px;line-height:20.00px;transform:scaleX(0.9668);color:#ff0000;">-13.6%</div>
<div class="t" style="left:403.80px;top:1213.10px;font-size:20.00px;line-height:20.00px;transform:scaleX(0.9853);">14.51</div>
<div class="t" style="left:557.72px;top:1213.10px;font-size:20.00px;line-height:20.00px;transform:scaleX(0.9902);">14.99</div>
<div class="t" style="left:712.02px;top:1213.10px;font-size:20.00px;line-height:20.00px;transform:scaleX(0.9902);">14.50</div>
<div class="t" style="left:865.59px;top:1213.10px;font-size:20.00px;line-height:20.00px;transform:scaleX(0.9902);">16.80</div>
<div class="t" style="left:1019.36px;top:1213.10px;font-size:20.00px;line-height:20.00px;transform:scaleX(0.9903);">7,802</div>
<div class="t" style="left:53.53px;top:1241.05px;font-size:20.00px;line-height:20.00px;transform:scaleX(0.9885);">ANW</div>
<div class="t" style="left:237.91px;top:1241.05px;font-size:20.00px;line-height:20.00px;transform:scaleX(0.9668);color:#ff0000;">-12.7%</div>
<div class="t" style="left:414.65px;top:1241.05px;font-size:20.00px;line-height:20.00px;transform:scaleX(0.9985);">6.10</div>
<div class="t" style="left:568.58px;top:1241.05px;font-size:20.00px;line-height:20.00px;transform:scaleX(0.9985);">6.20</div>
<div class="t" style="left:722.88px;top:1241.05px;font-size:20.00px;line-height:20.00px;transform:scaleX(0.9985);">6.10</div>
<div class="t" style="left:876.46px;top:1241.05px;font-size:20.00px;line-height:20.00px;transform:scaleX(0.9977);">6.99</div>
<div class="t" style="left:1019.36px;top:1241.05px;font-size:20.00px;line-height:20.00px;transform:scaleX(0.9946);">2,100</div>
<div class="t" style="left:53.26px;top:1268.99px;font-size:20.00px;line-height:20.00px;transform:scaleX(1.0362);">IMH</div>
<div class="t" style="left:249.01px;top:1268.99px;font-size:20.00px;line-height:20.00px;transform:scaleX(0.9572);color:#ff0000;">-9.7%</div>
<div class="t" style="left:403.79px;top:1268.99px;font-size:20.00px;line-height:20.00px;transform:scaleX(0.9902);">13.70</div>
<div class="t" style="left:557.74px;top:1268.99px;font-size:20.00px;line-height:20.00px;transform:scaleX(0.9757);">15.25</div>
<div class="t" style="left:712.03px;top:1268.99px;font-size:20.00px;line-height:20.00px;transform:scaleX(0.9853);">13.51</div>
<div class="t" style="left:865.59px;top:1268.99px;font-size:20.00px;line-height:20.00px;transform:scaleX(0.9909);">15.17</div>
<div class="t" style="left:1019.14px;top:1268.99px;font-size:20.00px;line-height:20.00px;transform:scaleX(0.9991);">4,900</div>
<div class="t" style="left:53.56px;top:1296.94px;font-size:20.00px;line-height:20.00px;transform:scaleX(0.9412);">MCP</div>
<div class="t" style="left:249.01px;top:1296.94px;font-size:20.00px;line-height:20.00px;transform:scaleX(0.9572);color:#ff0000;">-7.4%</div>
<div class="t" style="left:414.67px;top:1296.94px;font-size:20.00px;line-height:20.00px;transform:scaleX(0.9963);">5.76</div>
<div class="t" style="left:568.61px;top:1296.94px;font-size:20.00px;line-height:20.00px;transform:scaleX(0.9929);">5.78</div>
<div class="t" style="left:722.91px;top:1296.94px;font-size:20.00px;line-height:20.00px;transform:scaleX(0.9929);">5.78</div>
<div class="t" style="left:876.45px;top:1296.94px;font-size:20.00px;line-height:20.00px;transform:scaleX(1.0007);">6.24</div>
<div class="t" style="left:996.97px;top:1296.94px;font-size:20.00px;line-height:20.00px;transform:scaleX(0.9976);">426,156</div>
<div class="t" style="left:53.52px;top:1324.88px;font-size:20.00px;line-height:20.00px;transform:scaleX(0.8161);-webkit-text-stroke:0.33px currentColor;">RBS</div>
<div class="t" style="left:249.01px;top:1324.88px;font-size:20.00px;line-height:20.00px;transform:scaleX(0.9572);color:#ff0000;">-4.9%</div>
<div class="t" style="left:403.81px;top:1324.88px;font-size:20.00px;line-height:20.00px;transform:scaleX(0.9757);">10.05</div>
<div class="t" style="left:557.72px;top:1324.88px;font-size:20.00px;line-height:20.00px;transform:scaleX(0.9909);">10.07</div>
<div class="t" style="left:712.02px;top:1324.88px;font-size:20.00px;line-height:20.00px;transform:scaleX(0.9857);">10.12</div>
<div class="t" style="left:865.59px;top:1324.88px;font-size:20.00px;line-height:20.00px;transform:scaleX(0.9914);">10.64</div>
<div class="t" style="left:1019.39px;top:1324.88px;font-size:20.00px;line-height:20.00px;transform:scaleX(1.0220);">3,411</div>
<div class="t" style="left:53.27px;top:1352.82px;font-size:20.00px;line-height:20.00px;transform:scaleX(0.9381);">CWH</div>
<div class="t" style="left:249.01px;top:1352.82px;font-size:20.00px;line-height:20.00px;transform:scaleX(0.9572);color:#ff0000;">-4.7%</div>
<div class="t" style="left:403.57px;top:1352.82px;font-size:20.00px;line-height:20.00px;transform:scaleX(0.9938);">21.46</div>
<div class="t" style="left:557.50px;top:1352.82px;font-size:20.00px;line-height:20.00px;transform:scaleX(0.9946);">21.50</div>
<div class="t" style="left:711.80px;top:1352.82px;font-size:20.00px;line-height:20.00px;transform:scaleX(0.9938);">21.46</div>
<div class="t" style="left:865.38px;top:1352.82px;font-size:20.00px;line-height:20.00px;transform:scaleX(0.9898);">22.51</div>
<div class="t" style="left:997.18px;top:1352.82px;font-size:20.00px;line-height:20.00px;transform:scaleX(0.9923);">763,212</div>
<div class="t" style="left:53.53px;top:1380.77px;font-size:20.00px;line-height:20.00px;transform:scaleX(0.9021);-webkit-text-stroke:0.12px currentColor;">AGNC</div>
<div class="t" style="left:249.01px;top:1380.77px;font-size:20.00px;line-height:20.00px;transform:scaleX(0.9572);color:#ff0000;">-3.9%</div>
<div class="t" style="left:403.62px;top:1380.77px;font-size:20.00px;line-height:20.00px;transform:scaleX(0.9936);">31.50</div>
<div class="t" style="left:557.55px;top:1380.77px;font-size:20.00px;line-height:20.00px;transform:scaleX(0.9888);">31.51</div>
<div class="t" style="left:711.85px;top:1380.77px;font-size:20.00px;line-height:20.00px;transform:scaleX(0.9936);">31.50</div>
<div class="t" style="left:865.43px;top:1380.77px;font-size:20.00px;line-height:20.00px;transform:scaleX(0.9904);">32.78</div>
<div class="t" style="left:980.86px;top:1380.77px;font-size:20.00px;line-height:20.00px;transform:scaleX(0.9919);">1,860,458</div>
<div class="t" style="left:53.39px;top:1408.71px;font-size:20.00px;line-height:20.00px;transform:scaleX(0.8948);-webkit-text-stroke:0.14px currentColor;">RVBD</div>
<div class="t" style="left:249.01px;top:1408.71px;font-size:20.00px;line-height:20.00px;transform:scaleX(0.9572);color:#ff0000;">-3.8%</div>
<div class="t" style="left:403.79px;top:1408.71px;font-size:20.00px;line-height:20.00px;transform:scaleX(0.9902);">15.10</div>
<div class="t" style="left:557.72px;top:1408.71px;font-size:20.00px;line-height:20.00px;transform:scaleX(0.9902);">15.20</div>
<div class="t" style="left:712.04px;top:1408.71px;font-size:20.00px;line-height:20.00px;transform:scaleX(0.9757);">15.15</div>
<div class="t" style="left:865.62px;top:1408.71px;font-size:20.00px;line-height:20.00px;transform:scaleX(0.9757);">15.75</div>
<div class="t" style="left:1008.27px;top:1408.71px;font-size:20.00px;line-height:20.00px;transform:scaleX(0.9956);">21,059</div>
<div class="t" style="left:53.41px;top:1436.66px;font-size:20.00px;line-height:20.00px;transform:scaleX(0.8850);-webkit-text-stroke:0.16px currentColor;">DEPO</div>
<div class="t" style="left:249.01px;top:1436.66px;font-size:20.00px;line-height:20.00px;transform:scaleX(0.9572);color:#ff0000;">-3.6%</div>
<div class="t" style="left:414.68px;top:1436.66px;font-size:20.00px;line-height:20.00px;transform:scaleX(0.9905);">5.91</div>
<div class="t" style="left:568.59px;top:1436.66px;font-size:20.00px;line-height:20.00px;transform:scaleX(0.9912);">6.01</div>
<div class="t" style="left:722.91px;top:1436.66px;font-size:20.00px;line-height:20.00px;transform:scaleX(0.9905);">5.91</div>
<div class="t" style="left:876.46px;top:1436.66px;font-size:20.00px;line-height:20.00px;transform:scaleX(0.9936);">6.13</div>
<div class="t" style="left:1019.38px;top:1436.66px;font-size:20.00px;line-height:20.00px;transform:scaleX(0.9942);">5,550</div>
<div class="t" style="left:53.25px;top:1464.60px;font-size:20.00px;line-height:20.00px;transform:scaleX(0.8022);-webkit-text-stroke:0.37px currentColor;">SLT</div>
<div class="t" style="left:249.01px;top:1464.60px;font-size:20.00px;line-height:20.00px;transform:scaleX(0.9572);color:#ff0000;">-3.5%</div>
<div class="t" style="left:414.67px;top:1464.60px;font-size:20.00px;line-height:20.00px;transform:scaleX(0.9794);">7.05</div>
<div class="t" style="left:568.58px;top:1464.60px;font-size:20.00px;line-height:20.00px;transform:scaleX(0.9985);">7.10</div>
<div class="t" style="left:722.88px;top:1464.60px;font-size:20.00px;line-height:20.00px;transform:scaleX(0.9985);">7.10</div>
<div class="t" style="left:876.46px;top:1464.60px;font-size:20.00px;line-height:20.00px;transform:scaleX(0.9969);">7.36</div>
<div class="t" style="left:1008.27px;top:1464.60px;font-size:20.00px;line-height:20.00px;transform:scaleX(0.9957);">60,200</div>
<div class="t" style="left:53.53px;top:1492.54px;font-size:20.00px;line-height:20.00px;transform:scaleX(0.9194);-webkit-text-stroke:0.09px currentColor;">WPX</div>
<div class="t" style="left:249.01px;top:1492.54px;font-size:20.00px;line-height:20.00px;transform:scaleX(0.9572);color:#ff0000;">-3.4%</div>
<div class="t" style="left:403.79px;top:1492.54px;font-size:20.00px;line-height:20.00px;transform:scaleX(0.9893);">12.16</div>
<div class="t" style="left:557.72px;top:1492.54px;font-size:20.00px;line-height:20.00px;transform:scaleX(0.9893);">14.16</div>
<div class="t" style="left:712.02px;top:1492.54px;font-size:20.00px;line-height:20.00px;transform:scaleX(0.9902);">14.00</div>
<div class="t" style="left:865.59px;top:1492.54px;font-size:20.00px;line-height:20.00px;transform:scaleX(0.9902);">14.50</div>
<div class="t" style="left:1019.36px;top:1492.54px;font-size:20.00px;line-height:20.00px;transform:scaleX(0.9946);">2,600</div>
<div class="t" style="left:53.45px;top:1520.49px;font-size:20.00px;line-height:20.00px;transform:scaleX(0.9290);-webkit-text-stroke:0.07px currentColor;">IBN</div>
<div class="t" style="left:249.01px;top:1520.49px;font-size:20.00px;line-height:20.00px;transform:scaleX(0.9572);color:#ff0000;">-3.4%</div>
<div class="t" style="left:403.35px;top:1520.49px;font-size:20.00px;line-height:20.00px;transform:scaleX(0.9959);">41.03</div>
<div class="t" style="left:557.28px;top:1520.49px;font-size:20.00px;line-height:20.00px;transform:scaleX(0.9991);">41.40</div>
<div class="t" style="left:711.58px;top:1520.49px;font-size:20.00px;line-height:20.00px;transform:scaleX(0.9849);">41.15</div>
<div class="t" style="left:865.15px;top:1520.49px;font-size:20.00px;line-height:20.00px;transform:scaleX(0.9991);">42.60</div>
<div class="t" style="left:1019.39px;top:1520.49px;font-size:20.00px;line-height:20.00px;transform:scaleX(0.9799);">5,155</div>
<div class="t" style="left:53.33px;top:1548.43px;font-size:20.00px;line-height:20.00px;transform:scaleX(0.7780);-webkit-text-stroke:0.44px currentColor;">KSS</div>
<div class="t" style="left:249.01px;top:1548.43px;font-size:20.00px;line-height:20.00px;transform:scaleX(0.9572);color:#ff0000;">-3.3%</div>
<div class="t" style="left:403.35px;top:1548.43px;font-size:20.00px;line-height:20.00px;transform:scaleX(0.9947);">44.82</div>
<div class="t" style="left:557.28px;top:1548.43px;font-size:20.00px;line-height:20.00px;transform:scaleX(1.0002);">45.24</div>
<div class="t" style="left:711.58px;top:1548.43px;font-size:20.00px;line-height:20.00px;transform:scaleX(0.9849);">45.05</div>
<div class="t" style="left:865.15px;top:1548.43px;font-size:20.00px;line-height:20.00px;transform:scaleX(0.9943);">46.61</div>
<div class="t" style="left:1008.49px;top:1548.43px;font-size:20.00px;line-height:20.00px;transform:scaleX(0.9920);">14,220</div>
<div class="t" style="left:53.14px;top:1576.38px;font-size:20.00px;line-height:20.00px;transform:scaleX(0.9780);">TTM</div>
<div class="t" style="left:249.01px;top:1576.38px;font-size:20.00px;line-height:20.00px;transform:scaleX(0.9572);color:#ff0000;">-2.9%</div>
<div class="t" style="left:403.57px;top:1576.38px;font-size:20.00px;line-height:20.00px;transform:scaleX(0.9946);">26.70</div>
<div class="t" style="left:557.51px;top:1576.38px;font-size:20.00px;line-height:20.00px;transform:scaleX(0.9803);">26.75</div>
<div class="t" style="left:711.80px;top:1576.38px;font-size:20.00px;line-height:20.00px;transform:scaleX(0.9946);">26.49</div>
<div class="t" style="left:865.37px;top:1576.38px;font-size:20.00px;line-height:20.00px;transform:scaleX(0.9946);">27.50</div>
<div class="t" style="left:1008.69px;top:1576.38px;font-size:20.00px;line-height:20.00px;transform:scaleX(0.9888);">98,050</div>
<div class="t" style="left:53.51px;top:1604.32px;font-size:20.00px;line-height:20.00px;transform:scaleX(0.8212);-webkit-text-stroke:0.32px currentColor;">BKS</div>
<div class="t" style="left:249.01px;top:1604.32px;font-size:20.00px;line-height:20.00px;transform:scaleX(0.9572);color:#ff0000;">-2.8%</div>
<div class="t" style="left:403.79px;top:1604.32px;font-size:20.00px;line-height:20.00px;transform:scaleX(0.9857);">14.52</div>
<div class="t" style="left:557.72px;top:1604.32px;font-size:20.00px;line-height:20.00px;transform:scaleX(0.9902);">14.80</div>
<div class="t" style="left:712.02px;top:1604.32px;font-size:20.00px;line-height:20.00px;transform:scaleX(0.9902);">14.80</div>
<div class="t" style="left:865.60px;top:1604.32px;font-size:20.00px;line-height:20.00px;transform:scaleX(0.9869);">15.23</div>
<div class="t" style="left:1008.32px;top:1604.32px;font-size:20.00px;line-height:20.00px;transform:scaleX(0.9948);">34,500</div>
<div class="t" style="left:53.46px;top:1632.26px;font-size:20.00px;line-height:20.00px;transform:scaleX(1.0052);">MPW</div>
<div class="t" style="left:249.01px;top:1632.26px;font-size:20.00px;line-height:20.00px;transform:scaleX(0.9572);color:#ff0000;">-2.6%</div>
<div class="t" style="left:403.81px;top:1632.26px;font-size:20.00px;line-height:20.00px;transform:scaleX(0.9757);">14.25</div>
<div class="t" style="left:557.72px;top:1632.26px;font-size:20.00px;line-height:20.00px;transform:scaleX(0.9869);">14.28</div>
<div class="t" style="left:712.02px;top:1632.26px;font-size:20.00px;line-height:20.00px;transform:scaleX(0.9869);">14.28</div>
<div class="t" style="left:865.59px;top:1632.26px;font-size:20.00px;line-height:20.00px;transform:scaleX(0.9893);">14.66</div>
<div class="t" style="left:1008.27px;top:1632.26px;font-size:20.00px;line-height:20.00px;transform:scaleX(0.9956);">22,600</div>
<div class="t" style="left:53.48px;top:1660.21px;font-size:20.00px;line-height:20.00px;transform:scaleX(0.8396);-webkit-text-stroke:0.27px currentColor;">EPI</div>
<div class="t" style="left:249.01px;top:1660.21px;font-size:20.00px;line-height:20.00px;transform:scaleX(0.9572);color:#ff0000;">-2.6%</div>
<div class="t" style="left:403.79px;top:1660.21px;font-size:20.00px;line-height:20.00px;transform:scaleX(0.9893);">18.36</div>
<div class="t" style="left:557.72px;top:1660.21px;font-size:20.00px;line-height:20.00px;transform:scaleX(0.9902);">18.59</div>
<div class="t" style="left:712.04px;top:1660.21px;font-size:20.00px;line-height:20.00px;transform:scaleX(0.9757);">18.45</div>
<div class="t" style="left:865.59px;top:1660.21px;font-size:20.00px;line-height:20.00px;transform:scaleX(0.9914);">18.94</div>
<div class="t" style="left:1019.37px;top:1660.21px;font-size:20.00px;line-height:20.00px;transform:scaleX(0.9803);">2,265</div>
<div class="t" style="left:52.84px;top:1688.15px;font-size:20.00px;line-height:20.00px;transform:scaleX(0.8625);-webkit-text-stroke:0.21px currentColor;">XTEX</div>
<div class="t" style="left:249.01px;top:1688.15px;font-size:20.00px;line-height:20.00px;transform:scaleX(0.9572);color:#ff0000;">-2.6%</div>
<div class="t" style="left:403.79px;top:1688.15px;font-size:20.00px;line-height:20.00px;transform:scaleX(0.9902);">17.10</div>
<div class="t" style="left:557.74px;top:1688.15px;font-size:20.00px;line-height:20.00px;transform:scaleX(0.9757);">17.15</div>
<div class="t" style="left:712.02px;top:1688.15px;font-size:20.00px;line-height:20.00px;transform:scaleX(0.9902);">17.10</div>
<div class="t" style="left:865.59px;top:1688.15px;font-size:20.00px;line-height:20.00px;transform:scaleX(0.9893);">17.56</div>
<div class="t" style="left:1008.49px;top:1688.15px;font-size:20.00px;line-height:20.00px;transform:scaleX(0.9920);">17,600</div>
<div class="t" style="left:17.49px;top:1744.52px;font-size:20.00px;line-height:20.00px;transform:scaleX(1.0243);">This report shows stocks that are having significant premarket movement in percentage</div>
<div class="t" style="left:23.83px;top:1772.52px;font-size:20.00px;line-height:20.00px;transform:scaleX(1.0205);">terms.  Individual issues must have a minimum trade price greater than $5.00 and</div>
<div class="t" style="left:16.62px;top:1800.52px;font-size:20.00px;line-height:20.00px;transform:scaleX(1.0034);">pre-market volume greater than 100 shares. The scan excludes 2x,3x ETF products</div>
<div class="t" style="left:18.03px;top:1828.22px;font-size:20.00px;line-height:20.00px;transform:scaleX(1.0515);">from the results.</div>
<div class="clip" style="left:0;top:1880.1px;width:1095px;height:168px">
<div class="t" style="left:17.45px;top:-4.18px;font-size:20.00px;line-height:20.00px;transform:scaleX(0.9115);-webkit-text-stroke:0.10px currentColor;">THIS DATA IS PROVIDED COURTESY OF THIRD PARTY VENDORS. LIVEVOL AND LIVEVOL STRATEGY GROUP</div>
<div class="t" style="left:17.01px;top:25.52px;font-size:20.00px;line-height:20.00px;transform:scaleX(0.9183);-webkit-text-stroke:0.09px currentColor;">(COLLECTIVELY, &quot;LIVEVOL&quot;) DO NOT WARRANT NOR GUARANTEE THE TIMELINESS, SEQUENCE, ACCURACY OR</div>
<div class="t" style="left:17.06px;top:55.02px;font-size:20.00px;line-height:20.00px;transform:scaleX(0.9276);-webkit-text-stroke:0.07px currentColor;">COMPLETENESS OF ANY INFORMATION IT PROVIDES, AND LIVEVOL SHALL NOT BE LIABLE IN ANY WAY TO CUSTOMER</div>
<div class="t" style="left:17.09px;top:84.32px;font-size:20.00px;line-height:20.00px;transform:scaleX(0.9087);-webkit-text-stroke:0.11px currentColor;">OR TO ANY OTHER PERSON FOR ANY LOSSES, DAMAGES, COSTS OR EXPENSES WHICH MAY ARISE FROM ANY FAILURE</div>
<div class="t" style="left:17.10px;top:113.72px;font-size:20.00px;line-height:20.00px;transform:scaleX(0.9072);-webkit-text-stroke:0.11px currentColor;">OF PERFORMANCE BY LIVEVOL OR THIRD PARTY VENDORS OR FROM ANY DELAYS, INACCURACIES, ERRORS IN OR</div>
<div class="t" style="left:17.08px;top:143.22px;font-size:20.00px;line-height:20.00px;transform:scaleX(0.9250);-webkit-text-stroke:0.07px currentColor;">OMISSIONS FROM ANY OF THE INFORMATION OR TRANSMISSION OR DELIVERY THEREOF WHETHER OR NOT DUE TO</div>
</div>
<div class="r" style="left:14.00px;top:1880.00px;width:1070.00px;height:1.00px;background:rgba(255,255,255,0.5);"></div>
<div class="r" style="left:0;top:0;width:1095px;height:2048px;border:1px solid #c0c0c0;box-sizing:border-box"></div>
</div></body></html>
